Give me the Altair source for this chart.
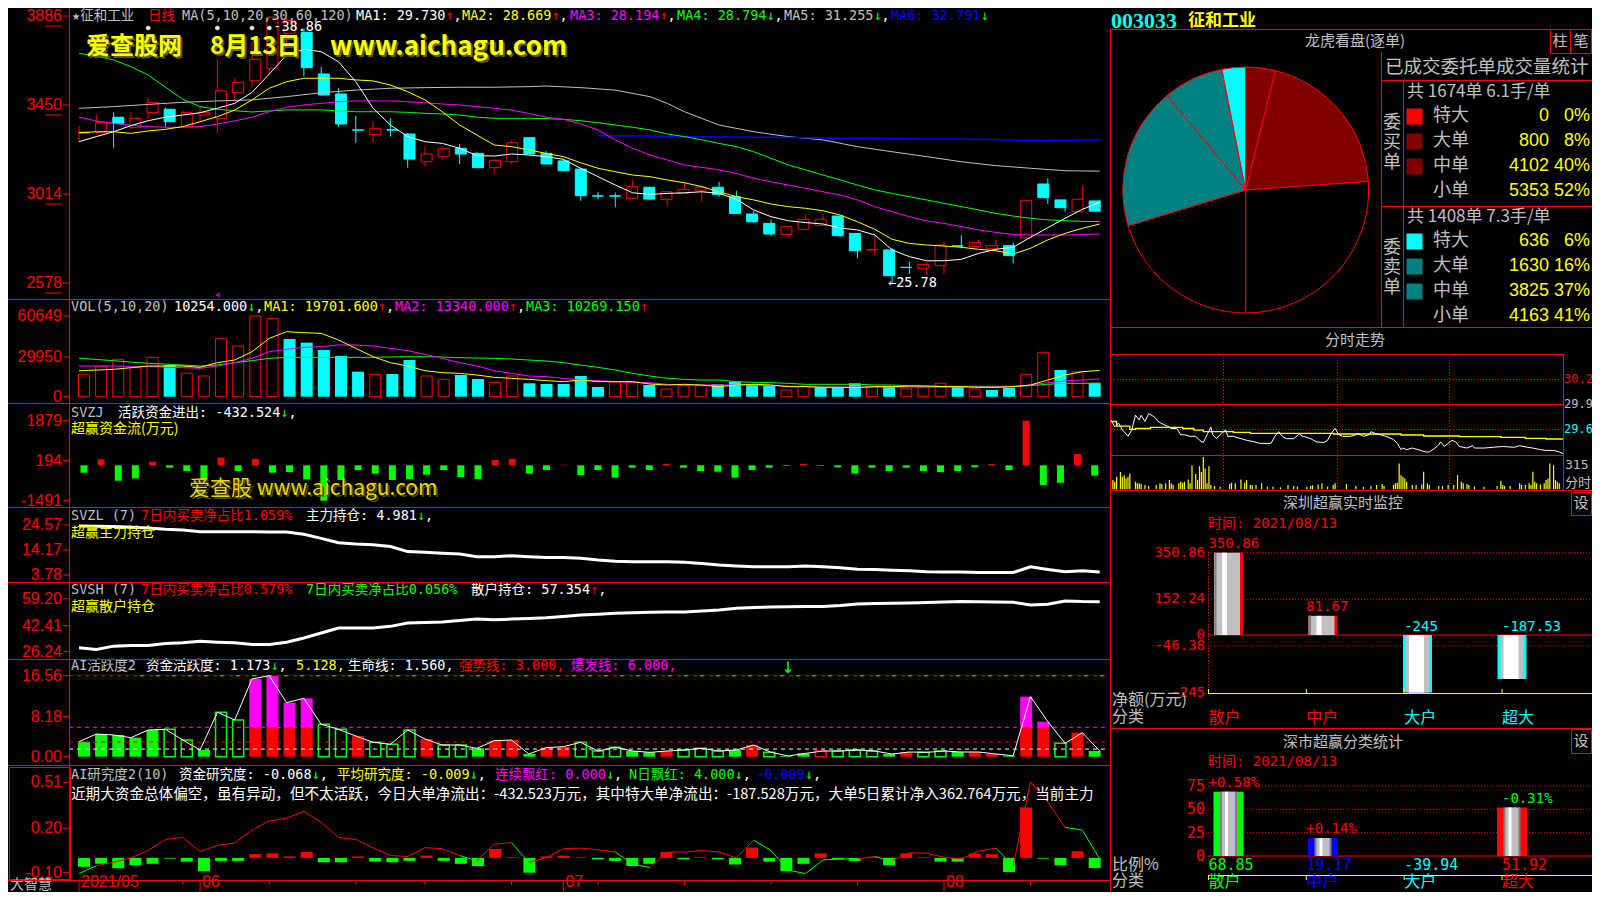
import altair as alt
import pandas as pd

# ============================ DATA ============================
N = 60
OPEN = [33.11, 33.16, 33.90, 33.39, 34.13, 34.29, 33.44, 34.01, 33.85, 35.10,
        35.69, 36.30, 38.01, 38.06, 36.02, 35.04, 33.28, 33.06, 33.29, 33.08,
        31.72, 31.97, 32.38, 32.13, 31.43, 31.72, 32.90, 32.13, 31.76, 31.36,
        30.05, 30.05, 29.93, 30.47, 29.88, 30.17, 30.33, 30.47, 30.01, 29.16,
        28.70, 28.16, 28.41, 28.60, 29.06, 28.21, 27.40, 27.40, 26.55, 26.50,
        26.63, 27.60, 27.56, 27.46, 27.61, 27.99, 30.63, 29.85, 29.27, 29.80]
CLOSE = [33.18, 33.65, 33.60, 33.85, 34.63, 33.68, 34.14, 34.14, 35.19, 35.61,
         36.74, 38.80, 38.63, 36.33, 34.99, 33.57, 33.27, 33.36, 33.27, 31.85,
         32.10, 32.38, 32.10, 31.43, 31.79, 32.65, 32.10, 31.61, 31.28, 30.06,
         30.04, 30.04, 30.50, 29.89, 30.25, 30.37, 30.47, 30.12, 29.19, 28.78,
         28.18, 28.54, 28.90, 28.90, 28.10, 27.36, 27.42, 26.14, 26.54, 26.69,
         27.64, 27.59, 27.76, 27.61, 27.12, 29.83, 29.96, 29.47, 29.88, 29.30]
HIGH = [33.47, 34.04, 34.14, 34.14, 34.88, 34.37, 34.21, 34.39, 36.74, 35.81,
        37.60, 38.86, 38.75, 38.26, 36.38, 35.32, 33.96, 33.68, 33.85, 33.11,
        32.49, 32.46, 32.59, 32.21, 31.84, 32.75, 32.90, 32.25, 31.84, 31.40,
        30.25, 30.21, 30.83, 30.47, 30.25, 30.74, 30.58, 30.74, 30.30, 29.32,
        28.90, 28.54, 29.14, 29.14, 29.06, 28.21, 28.08, 27.48, 26.83, 26.83,
        27.81, 28.13, 27.89, 27.89, 27.77, 29.83, 30.91, 29.85, 30.53, 29.85]
LOW = [32.70, 33.16, 32.41, 33.32, 33.85, 33.44, 33.36, 33.73, 33.14, 34.66,
       35.37, 35.97, 37.52, 35.89, 34.96, 33.44, 32.65, 32.65, 32.95, 31.43,
       31.48, 31.81, 31.61, 31.43, 31.12, 31.61, 32.10, 31.61, 31.23, 29.80,
       29.88, 29.49, 29.88, 29.85, 29.57, 30.17, 29.76, 30.01, 29.16, 28.73,
       28.08, 28.02, 28.41, 28.60, 28.05, 26.99, 27.15, 25.78, 26.22, 26.17,
       26.22, 27.48, 27.56, 27.46, 26.74, 27.99, 29.65, 29.27, 29.27, 29.25]
MA5 = [32.70, 32.95, 33.19, 33.49, 33.73, 33.90, 34.01, 34.12, 34.34, 34.58,
       35.12, 36.02, 36.95, 37.23, 37.11, 36.62, 35.64, 34.34, 33.52, 32.95,
       32.70, 32.62, 32.38, 32.02, 32.00, 32.10, 32.05, 31.97, 31.84, 31.40,
       30.99, 30.58, 30.20, 30.12, 30.17, 30.20, 30.25, 30.17, 29.88, 29.36,
       29.03, 28.83, 28.74, 28.67, 28.47, 28.38, 28.13, 27.40, 27.07, 26.87,
       26.87, 26.94, 27.23, 27.43, 27.53, 28.02, 28.49, 28.95, 29.39, 29.73]
MA10 = [33.14, 33.19, 33.19, 33.11, 33.23, 33.31, 33.44, 33.68, 33.93, 34.25,
        34.75, 35.32, 35.64, 35.81, 35.81, 35.81, 35.73, 35.68, 35.48, 35.15,
        34.75, 34.17, 33.52, 33.03, 32.54, 32.46, 32.30, 32.13, 31.97, 31.67,
        31.40, 31.23, 31.07, 30.99, 30.83, 30.69, 30.50, 30.25, 30.01, 29.85,
        29.65, 29.52, 29.44, 29.32, 29.11, 28.78, 28.41, 27.92, 27.72, 27.64,
        27.59, 27.53, 27.43, 27.36, 27.20, 27.48, 27.89, 28.21, 28.46, 28.67]
MA20 = [33.90, 33.72, 33.60, 33.50, 33.44, 33.41, 33.41, 33.44, 33.57, 33.72,
        33.90, 34.17, 34.39, 34.50, 34.58, 34.66, 34.70, 34.70, 34.70, 34.66,
        34.61, 34.55, 34.50, 34.42, 34.34, 34.25, 34.09, 33.90, 33.80, 33.57,
        33.28, 32.79, 32.38, 32.05, 31.81, 31.56, 31.45, 31.32, 31.15, 30.91,
        30.74, 30.58, 30.42, 30.25, 30.09, 29.85, 29.52, 29.27, 29.03, 28.82,
        28.70, 28.54, 28.38, 28.26, 28.16, 28.13, 28.13, 28.13, 28.15, 28.19]
MA30 = [37.03, 36.90, 36.71, 36.38, 35.97, 35.37, 34.78, 34.42, 34.29, 34.22,
        34.16, 34.21, 34.26, 34.26, 34.26, 34.21, 34.17, 34.17, 34.17, 34.14,
        34.09, 34.06, 34.01, 33.90, 33.85, 33.85, 33.85, 33.83, 33.80, 33.73,
        33.63, 33.52, 33.41, 33.28, 33.08, 32.95, 32.79, 32.62, 32.46, 32.21,
        31.89, 31.56, 31.32, 31.07, 30.83, 30.58, 30.34, 30.17, 30.01, 29.85,
        29.68, 29.52, 29.36, 29.19, 29.06, 28.95, 28.87, 28.83, 28.80, 28.79]
MA60_IDX = [0, 2, 4, 6, 8, 10, 12, 14, 16, 18, 20, 22, 24, 26, 27, 29, 31, 33, 34, 35,
            37, 39, 41, 43, 45, 47, 49, 51, 53, 55, 57, 59]
MA60 = [34.34, 34.42, 34.53, 34.63, 34.70, 34.75, 34.91, 35.10, 35.23, 35.32, 35.35,
        35.37, 35.37, 35.40, 35.43, 35.35, 35.23, 34.91, 34.58, 34.17, 33.52, 33.19,
        32.95, 32.79, 32.46, 32.21, 31.97, 31.72, 31.53, 31.40, 31.28, 31.26]
MA120_IDX = [30, 33, 36, 40, 44, 48, 52, 55, 57, 59]
MA120 = [32.99, 32.98, 32.95, 32.92, 32.87, 32.85, 32.82, 32.76, 32.77, 32.79]
SIGNAL_IDX = [4, 8, 10, 11]

VOL = [16830, 23070, 28100, 21800, 29600, 23800, 17600, 15550, 43900, 38100,
       60649, 58900, 43360, 40600, 35100, 30600, 18800, 16800, 17060, 27580,
       15550, 13070, 16300, 13300, 10820, 15550, 10070, 9540, 9540, 15550,
       7290, 11050, 11050, 8800, 5790, 8270, 8270, 9300, 11270, 9020,
       8270, 5030, 7800, 7060, 7060, 10070, 7800, 7520, 5790, 7060,
       10070, 7290, 5790, 5030, 6760, 16830, 33370, 20060, 18790, 10254]
VOL_UP = [1, 1, 1, 1, 1, 0, 1, 1, 1, 1, 1, 1, 0, 0, 0, 0, 0, 1, 0, 0,
          1, 1, 0, 0, 1, 1, 0, 0, 0, 0, 0, 1, 1, 0, 1, 1, 1, 0, 0, 0,
          0, 1, 1, 0, 0, 0, 1, 0, 1, 1, 1, 0, 1, 0, 0, 1, 1, 0, 1, 0]
VMA5 = [19560, 20000, 20570, 21800, 23070, 23070, 23070, 22070, 25570, 27580,
        33840, 43860, 48870, 48120, 47620, 42610, 36350, 30080, 25570, 23070,
        19560, 18060, 17560, 16310, 14560, 13800, 13050, 12050, 11300, 12550,
        11300, 11300, 11300, 9540, 8790, 9290, 8790, 7540, 8790, 9290,
        8790, 7540, 7540, 7040, 7040, 6790, 7540, 7540, 8040, 8040,
        7540, 7540, 7040, 7040, 7540, 8790, 12550, 16310, 18810, 19702]
VMA10 = [23070, 23070, 23070, 22800, 22570, 22200, 21820, 21320, 23070, 25570,
         28830, 33840, 35600, 37100, 37600, 38850, 38850, 38100, 36350, 34590,
         31840, 28830, 25570, 23070, 19560, 17560, 15560, 15050, 13800, 12550,
         12050, 11300, 10800, 10540, 9290, 8790, 8790, 8790, 8790, 8790,
         8290, 8040, 7540, 7290, 7290, 7290, 7290, 7290, 7290, 7290,
         7290, 7290, 7290, 7290, 7540, 8790, 10540, 11800, 12550, 13340]
VMA20 = [28830, 28000, 27080, 26000, 25080, 24500, 23800, 23070, 23800, 25570,
         27080, 28830, 29580, 29580, 29580, 29580, 29580, 29580, 29830, 30080,
         30080, 29830, 29330, 29080, 28830, 28330, 27580, 26830, 25570, 23800,
         22070, 20060, 17560, 15560, 13800, 13050, 12550, 12550, 11300, 10800,
         10540, 10050, 9290, 9290, 9290, 9290, 8790, 8790, 8290, 7790,
         7790, 7790, 7790, 7790, 7790, 8290, 9290, 10050, 10050, 10269]
SVZJ = [-312, 253, -650, -550, 150, -100, -240, -620, 320, -240,
        265, -312, -282, -590, -1491, -620, -198, -354, -620, -577,
        -396, -198, -493, -577, 223, 265, -354, -198, 20, -410,
        -198, -520, -100, -198, 60, -100, -240, -270, -520, -198,
        -100, -25, 60, -25, -80, -354, -100, -240, -100, -240,
        -282, -240, -80, 60, -198, 1879, -830, -733, 476, -432.5]
SVZL = [24.15, 24.0, 23.9, 23.6, 23.3, 22.8, 22.5, 21.8, 21.8, 21.8,
        21.8, 21.7, 21.7, 20.7, 19.0, 17.2, 16.7, 16.4, 15.6, 13.5,
        13.2, 12.8, 12.5, 11.4, 11.4, 11.8, 11.4, 11.1, 11.1, 10.7,
        10.0, 9.5, 9.3, 9.3, 9.3, 9.1, 8.6, 7.9, 7.5, 7.2,
        7.2, 7.2, 7.5, 7.2, 6.8, 6.2, 6.1, 5.8, 5.5, 5.1,
        5.0, 5.0, 4.8, 4.8, 4.8, 7.2, 6.1, 5.1, 5.5, 4.98]
SVSH = [28.7, 27.65, 29.7, 30.1, 30.1, 31.3, 31.75, 32.75, 32.15, 31.75,
        30.7, 30.7, 32.15, 34.8, 37.9, 41.0, 41.0, 41.0, 42.0, 44.05,
        44.45, 44.7, 45.7, 46.5, 46.1, 46.5, 46.9, 47.3, 48.1, 49.0,
        49.6, 50.2, 50.5, 50.8, 51.0, 51.0, 51.6, 52.2, 53.3, 53.7,
        54.1, 54.2, 54.3, 54.3, 54.9, 55.9, 56.2, 56.4, 56.6, 56.8,
        57.1, 57.4, 57.3, 57.2, 57.0, 55.3, 55.75, 57.8, 57.4, 57.35]
AI = [3.07, 4.64, 4.44, 3.89, 5.46, 5.60, 3.41, 1.37, 9.08, 7.51,
      15.9, 16.56, 11.05, 11.94, 6.62, 5.60, 4.23, 2.94, 2.53, 5.46,
      3.62, 2.39, 2.39, 1.71, 3.28, 3.41, 0.55, 1.84, 2.05, 2.94,
      1.16, 1.91, 1.16, 0.89, 1.16, 1.37, 1.71, 1.16, 1.37, 2.39,
      0.89, 0.15, 0.68, 1.16, 1.16, 1.37, 1.16, 0.55, 0.96, 0.89,
      1.16, 0.96, 0.96, 0.55, 0.2, 12.27, 7.16, 2.74, 4.91, 1.17]
AI_TYPE = "GGGGGggGgg" "RRRRggRggg" "RggGRRGRRg" "ggGGRgggGR" "gGGrgggGRg" "gGRRGRRgRG"
AI_LEVELS = [6.0, 3.0, 1.56]
YJ = [-0.06, -0.04, -0.07, -0.05, -0.04, -0.005, -0.025, -0.09, -0.02, -0.02,
      0.025, 0.03, 0.01, 0.04, -0.03, -0.03, 0.01, -0.025, -0.03, -0.02,
      0.015, -0.02, -0.04, -0.055, 0.06, 0.005, -0.10, 0.01, 0.015, 0.004,
      -0.01, -0.02, -0.055, -0.04, 0.04, -0.01, 0.005, -0.01, -0.045, 0.07,
      -0.025, -0.09, -0.04, 0.03, -0.01, -0.02, 0.005, -0.05, 0.03, 0.004,
      -0.025, -0.025, 0.03, 0.025, -0.095, 0.34, -0.005, -0.05, 0.045, -0.068]
YJ_LINE = [-0.106, -0.053, -0.030, 0.0, 0.050, 0.124, 0.138, 0.043, 0.085, 0.101,
           0.188, 0.250, 0.268, 0.314, 0.239, 0.138, 0.124, 0.069, 0.016, 0.009,
           0.069, 0.062, 0.016, -0.019, 0.092, 0.103, -0.030, 0.0, 0.062, 0.066,
           0.055, 0.039, -0.042, -0.065, 0.039, 0.039, 0.050, 0.039, 0.0, 0.119,
           0.050, -0.083, -0.106, -0.014, -0.007, -0.007, 0.009, -0.019, 0.034, 0.032,
           0.004, -0.007, 0.046, 0.066, -0.053, 0.514, 0.376, 0.206, 0.188, -0.007]
YJ_SEG = "GGRRRRRRRR" "RRRRRRRRRR" "RRRGRRGRRR" "RRGGRRRRRR" "GGGGGGRGRR" "RRRRGRRRGG"

DATE_IDX = [0, 7, 28, 50]
DATE_LBL = ["2021/05", "06", "07", "08"]
WEEK_IDX = [6, 11, 16, 20, 25, 30, 35, 40, 45, 55]

TICK_P = [38.86, 34.50, 30.14, 25.78]; TICK_P_L = ["3886", "3450", "3014", "2578"]
TICK_V = [60649, 29950, 0]; TICK_V_L = ["60649", "29950", "0"]
TICK_Z = [1879, 194, -1491]; TICK_Z_L = ["1879", "194", "-1491"]
TICK_L = [24.57, 14.17, 3.78]; TICK_L_L = ["24.57", "14.17", "3.78"]
TICK_H = [59.20, 42.41, 26.24]; TICK_H_L = ["59.20", "42.41", "26.24"]
TICK_A = [16.56, 8.18, 0.0]; TICK_A_L = ["16.56", "8.18", "0.00"]
TICK_J = [0.51, 0.20, -0.10]; TICK_J_L = ["0.51", "0.20", "-0.10"]

FS_MIN = [0, 2, 4, 6, 7, 9, 11, 13, 15, 16, 18, 20, 23, 25, 28, 30, 32, 35, 37, 39,
          42, 45, 47, 49, 51, 53, 54, 56, 59, 61, 62, 65, 69, 72, 76, 79, 83, 85, 87, 89,
          91, 93, 97, 100, 102, 106, 109, 113, 115, 117, 119, 121, 123, 127, 130, 131, 134, 137, 138, 140,
          143, 146, 150, 152, 154, 155, 157, 160, 163, 167, 169, 172, 174, 175, 177, 179, 181, 183, 185, 189,
          192, 193, 198, 203, 208, 214, 217, 221, 224, 228, 231, 235, 238, 240]
FS_PRICE = [29.73, 29.64, 29.69, 29.60, 29.58, 29.52, 29.60, 29.79, 29.73, 29.79,
            29.71, 29.81, 29.77, 29.71, 29.67, 29.65, 29.62, 29.62, 29.54, 29.54,
            29.52, 29.52, 29.47, 29.44, 29.54, 29.64, 29.54, 29.49, 29.57, 29.60,
            29.52, 29.52, 29.49, 29.47, 29.45, 29.43, 29.43, 29.43, 29.52, 29.58,
            29.52, 29.49, 29.49, 29.55, 29.52, 29.49, 29.45, 29.44, 29.47, 29.56,
            29.62, 29.54, 29.52, 29.52, 29.54, 29.56, 29.52, 29.54, 29.58, 29.56,
            29.54, 29.52, 29.48, 29.43, 29.35, 29.37, 29.35, 29.37, 29.35, 29.32,
            29.32, 29.37, 29.41, 29.45, 29.39, 29.43, 29.47, 29.45, 29.39, 29.37,
            29.40, 29.37, 29.37, 29.38, 29.39, 29.38, 29.40, 29.38, 29.37, 29.35,
            29.34, 29.34, 29.32, 29.30]
FS_AVG_MIN = [0, 3, 10, 13, 21, 30, 38, 44, 49, 65, 74, 100, 118, 154, 166, 185, 207, 220, 231, 240]
FS_AVG = [29.71, 29.65, 29.61, 29.62, 29.635, 29.635, 29.62, 29.60, 29.58, 29.57,
          29.558, 29.558, 29.55, 29.537, 29.524, 29.516, 29.507, 29.494, 29.486, 29.486]
FSV_MIN = [1, 2, 3, 5, 6, 7, 8, 9, 10, 13, 14, 15, 16, 18, 20, 24, 26, 27, 29, 31,
           32, 33, 36, 37, 38, 39, 41, 42, 43, 45, 46, 47, 48, 49, 50, 51, 52, 53, 55, 58,
           63, 64, 66, 69, 71, 72, 74, 75, 77, 80, 83, 86, 90, 94, 97, 99, 104, 106, 107, 110,
           112, 115, 118, 119, 125, 130, 134, 138, 141, 144, 145, 150, 151, 152, 153, 154, 155, 156, 157, 160,
           162, 165, 166, 168, 169, 174, 176, 179, 182, 184, 186, 187, 189, 190, 193, 198, 205, 207, 208, 209,
           212, 217, 218, 220, 222, 223, 224, 225, 226, 228, 230, 231, 232, 233, 235, 236, 237, 238]
FSV = [90, 74, 122, 170, 122, 138, 106, 122, 154, 74, 58, 58, 51, 42, 32, 42, 58, 51, 58, 90,
       58, 42, 58, 74, 64, 74, 96, 58, 235, 148, 90, 225, 170, 315, 202, 58, 225, 42, 32, 26,
       51, 64, 58, 96, 64, 90, 42, 39, 42, 58, 26, 26, 19, 42, 32, 26, 26, 32, 39, 48,
       58, 26, 42, 58, 51, 32, 26, 32, 42, 51, 32, 42, 58, 64, 251, 138, 122, 106, 74, 42,
       42, 48, 170, 58, 42, 32, 32, 42, 42, 138, 74, 58, 51, 42, 26, 26, 32, 84, 42, 32,
       32, 58, 42, 42, 58, 42, 170, 74, 58, 48, 58, 90, 106, 251, 235, 90, 74, 58]
FS_LBL = [(30.25, "30.25"), (29.93, "29.93"), (29.61, "29.61")]

ORDER_LBL = ["特大", "大单", "中单", "小单"]
BUY_VOL = [0, 800, 4102, 5353]
BUY_PCT = ["0%", "8%", "40%", "52%"]
SELL_VOL = [636, 1630, 3825, 4163]
SELL_PCT = ["6%", "16%", "37%", "41%"]
BUY_SUM = "共 1674单 6.1手/单"
SELL_SUM = "共 1408单 7.3手/单"

SZ_CATS = ["散户", "中户", "大户", "超大"]
SZ_NET = [350.86, 81.67, -245, -187.53]
SZ_TICKS = [350.86, 152.24, 0, -46.38, -245]
SZ_TICK_L = ["350.86", "152.24", "0", "-46.38", "-245"]
SS_PCT = [68.85, 19.17, -39.94, 51.92]
SS_CHG = ["+0.58%", "+0.14%", "", "-0.31%"]
SS_TICKS = [75, 50, 25, 0]

# ============================ STYLE / HELPERS ============================
M = 8
W, H = 1584, 884
RED = "#ff0000"; CYAN = "#00ffff"; GREEN = "#00ff00"; YEL = "#ffff00"; MAG = "#ff00ff"
WHITE = "#ffffff"; GRAY = "#c0c0c0"; BLUE = "#0000ff"; DRED = "#800000"; TEAL = "#008080"
DGRAY = "#808080"; BLACK = "#000000"
MONO = "DejaVu Sans Mono, Noto Sans CJK SC"
CJK = "Noto Sans CJK SC"
SANS = "Liberation Sans"
HS = 13.5

def P(v):
    return v - M

one = pd.DataFrame({"_": [0]})
L = []

def text(x, y, s, color, size=HS, font=MONO, align="left", baseline="middle", weight="normal", **kw):
    L.append(alt.Chart(one).mark_text(align=align, baseline=baseline, font=font, fontSize=size,
                                      fontWeight=weight, color=color, **kw)
             .encode(x=alt.value(P(x)), y=alt.value(P(y)), text=alt.value(s)))

def tw(s, size):
    return sum(size * (0.602 if (ord(ch) < 0x2000 or ch in "↑↓") else 1.0) for ch in s)

def rich(y, pieces, size=HS):
    cur = 0
    for x, s, c in pieces:
        if x is not None:
            cur = x
        text(cur, y, s, c, size=size)
        cur += tw(s, size)

def hline(y, x1, x2, color=RED, w=1, dash=None):
    kw = dict(color=color, strokeWidth=w)
    if dash:
        kw["strokeDash"] = dash
    L.append(alt.Chart(one).mark_rule(**kw).encode(
        x=alt.value(P(x1)), x2=alt.value(P(x2)), y=alt.value(P(y) + 0.5)))

def vline(x, y1, y2, color=RED, w=1, dash=None):
    kw = dict(color=color, strokeWidth=w)
    if dash:
        kw["strokeDash"] = dash
    L.append(alt.Chart(one).mark_rule(**kw).encode(
        x=alt.value(P(x) + 0.5), y=alt.value(P(y1)), y2=alt.value(P(y2))))

def rect(x1, y1, x2, y2, color=RED, filled=False):
    if filled:
        mk = alt.Chart(one).mark_rect(color=color)
    else:
        mk = alt.Chart(one).mark_rect(filled=False, stroke=color, strokeWidth=1)
    L.append(mk.encode(x=alt.value(P(x1) + 0.5), x2=alt.value(P(x2) + 0.5),
                       y=alt.value(P(y1) + 0.5), y2=alt.value(P(y2) + 0.5)))

def sc(dom, r0, r1):
    return alt.Scale(domain=list(dom), range=[P(r0), P(r1)], nice=False, zero=False)

def qx(f, s):
    return alt.X(f"{f}:Q", scale=s, axis=None)

def qy(f, s):
    return alt.Y(f"{f}:Q", scale=s, axis=None)

def yticks(vals, labels, s, underline=False):
    d = pd.DataFrame({"v": vals, "t": labels})
    L.append(alt.Chart(d).mark_text(align="right", baseline="middle", font=SANS, fontSize=16, color=RED)
             .encode(x=alt.value(P(62)), y=qy("v", s), text="t:N"))
    L.append(alt.Chart(d).mark_rule(color=RED).encode(x=alt.value(P(63)), x2=alt.value(P(69)), y=qy("v", s)))
    if underline:
        L.append(alt.Chart(d).mark_rule(color=RED, yOffset=10).encode(
            x=alt.value(P(45)), x2=alt.value(P(62)), y=qy("v", s)))

idx = list(range(N))
XS = sc([0, N - 1], 79, 79 + 17.3 * (N - 1))
YP = sc([25.78, 38.86], 283, 16)
YV = sc([0, 60649], 396.7, 316)
YZ = sc([-1491, 1879], 500.7, 420.7)
YL = sc([3.78, 24.57], 575, 525)
YH = sc([26.24, 59.20], 651.7, 598.7)
YA = sc([0, 16.56], 756.7, 675.7)
YJS = sc([-0.10, 0.51], 872.7, 782.3)

# ============================ LEFT: MAIN K-LINE ============================
cdf = pd.DataFrame({"i": idx, "o": OPEN, "c": CLOSE, "h": HIGH, "l": LOW})
cup = cdf[cdf.c >= cdf.o]
cdn = cdf[cdf.c < cdf.o]
for d, col, fill in ((cup, RED, BLACK), (cdn, CYAN, CYAN)):
    L.append(alt.Chart(d).mark_rule(color=col).encode(x=qx("i", XS), y=qy("l", YP), y2="h"))
    L.append(alt.Chart(d).mark_bar(size=11, fill=fill, stroke=col, strokeWidth=1)
             .encode(x=qx("i", XS), y=qy("o", YP), y2="c"))

mdf = pd.DataFrame({"i": idx, "a": MA5, "b": MA10, "c": MA20, "d": MA30})
L.append(alt.Chart(pd.DataFrame({"i": MA60_IDX, "v": MA60})).mark_line(color=GRAY, strokeWidth=1)
         .encode(x=qx("i", XS), y=qy("v", YP)))
L.append(alt.Chart(pd.DataFrame({"i": MA120_IDX, "v": MA120})).mark_line(color=BLUE, strokeWidth=1.5)
         .encode(x=qx("i", XS), y=qy("v", YP)))
for f, col in (("d", GREEN), ("c", MAG), ("b", YEL), ("a", WHITE)):
    L.append(alt.Chart(mdf).mark_line(color=col, strokeWidth=1).encode(x=qx("i", XS), y=qy(f, YP)))

hi = pd.DataFrame({"i": [11], "v": [38.86], "t": ["-38.86"]})
lo = pd.DataFrame({"i": [47], "v": [25.78], "t": ["←25.78"]})
L.append(alt.Chart(hi).mark_text(align="left", baseline="middle", dx=4, dy=11, font=MONO, fontSize=HS, color=WHITE)
         .encode(x=qx("i", XS), y=qy("v", YP), text="t:N"))
L.append(alt.Chart(lo).mark_text(align="left", baseline="middle", dx=-4, font=MONO, fontSize=HS, color=WHITE)
         .encode(x=qx("i", XS), y=qy("v", YP), text="t:N"))
L.append(alt.Chart(pd.DataFrame({"i": SIGNAL_IDX})).mark_point(shape="cross", size=22, filled=True, color=WHITE, angle=45)
         .encode(x=qx("i", XS), y=alt.value(P(28))))
L.append(alt.Chart(pd.DataFrame({"i": SIGNAL_IDX})).mark_point(shape="cross", size=22, filled=True, color=WHITE)
         .encode(x=qx("i", XS), y=alt.value(P(28))))
L.append(alt.Chart(pd.DataFrame({"i": [8]})).mark_point(shape="triangle-left", size=30, filled=True, color=MAG)
         .encode(x=qx("i", XS), y=alt.value(P(295))))
yticks(TICK_P, TICK_P_L, YP, underline=True)

# watermark
for dx, col in ((2, "#5a5a00"), (0, YEL)):
    text(86 + dx, 47 + dx, "爱查股网", col, size=24, font=CJK, weight="bold")
    text(210 + dx, 47 + dx, "8月13日", col, size=24, font=CJK, weight="bold")
    text(330 + dx, 47 + dx, "www.aichagu.com", col, size=26, font=CJK, weight="bold")

rich(16, [(72, "★征和工业", GRAY), (148, "日线", RED), (182, "MA(5,10,20,30,60,120)", GRAY),
          (356, "MA1: 29.730", WHITE), (None, "↑", RED), (None, ",", WHITE),
          (462, "MA2: 28.669", YEL), (None, "↑", RED), (None, ",", WHITE),
          (570, "MA3: 28.194", MAG), (None, "↑", RED), (None, ",", WHITE),
          (677, "MA4: 28.794", GREEN), (None, "↓", GREEN), (None, ",", WHITE),
          (784, "MA5: 31.255", GRAY), (None, "↓", GREEN), (None, ",", WHITE),
          (891, "MA6: 32.791", BLUE), (None, "↓", GREEN)])

# ============================ VOLUME ============================
vdf = pd.DataFrame({"i": idx, "v": VOL, "u": VOL_UP})
L.append(alt.Chart(vdf[vdf.u == 1]).mark_bar(size=11, fill=BLACK, stroke=RED, strokeWidth=1)
         .encode(x=qx("i", XS), y=qy("v", YV), y2=alt.datum(0)))
L.append(alt.Chart(vdf[vdf.u == 0]).mark_bar(size=12, color=CYAN)
         .encode(x=qx("i", XS), y=qy("v", YV), y2=alt.datum(0)))
vm = pd.DataFrame({"i": idx, "a": VMA5, "b": VMA10, "c": VMA20})
for f, col in (("c", GREEN), ("b", MAG), ("a", YEL)):
    L.append(alt.Chart(vm).mark_line(color=col, strokeWidth=1).encode(x=qx("i", XS), y=qy(f, YV)))
yticks(TICK_V, TICK_V_L, YV)
rich(307, [(71, "VOL(5,10,20)", GRAY), (174, "10254.000", WHITE), (None, "↓", GREEN), (None, ",", WHITE),
           (264, "MA1: 19701.600", YEL), (None, "↑", RED), (None, ",", WHITE),
           (395, "MA2: 13340.000", MAG), (None, "↑", RED), (None, ",", WHITE),
           (526, "MA3: 10269.150", GREEN), (None, "↑", RED)])

# ============================ SVZJ ============================
zdf = pd.DataFrame({"i": idx, "v": SVZJ})
L.append(alt.Chart(zdf[zdf.v > 0]).mark_bar(size=7, color=RED)
         .encode(x=qx("i", XS), y=qy("v", YZ), y2=alt.datum(0)))
L.append(alt.Chart(zdf[zdf.v <= 0]).mark_bar(size=7, color=GREEN)
         .encode(x=qx("i", XS), y=qy("v", YZ), y2=alt.datum(0)))
yticks(TICK_Z, TICK_Z_L, YZ)
rich(413, [(71, "SVZJ", GRAY), (118, "活跃资金进出: -432.524", WHITE), (None, "↓", GREEN), (None, ",", WHITE)])
text(71, 429, "超赢资金流(万元)", YEL, size=14, font=CJK)
for dx, col in ((2, "#4a4a00"), (0, "#e8d800")):
    text(189 + dx, 489 + dx, "爱查股 www.aichagu.com", col, size=21, font=CJK)

# ============================ SVZL / SVSH ============================
L.append(alt.Chart(pd.DataFrame({"i": idx, "v": SVZL})).mark_line(color=WHITE, strokeWidth=3)
         .encode(x=qx("i", XS), y=qy("v", YL)))
yticks(TICK_L, TICK_L_L, YL)
rich(516, [(71, "SVZL  (7)", GRAY), (141, "7日内买卖净占比1.059%", RED),
           (306, "主力持仓: 4.981", WHITE), (None, "↓", GREEN), (None, ",", WHITE)])
text(71, 533, "超赢主力持仓", YEL, size=14, font=CJK)

L.append(alt.Chart(pd.DataFrame({"i": idx, "v": SVSH})).mark_line(color=WHITE, strokeWidth=3)
         .encode(x=qx("i", XS), y=qy("v", YH)))
yticks(TICK_H, TICK_H_L, YH)
rich(590, [(71, "SVSH  (7)", GRAY), (141, "7日内买卖净占比0.579%", RED),
           (306, "7日内买卖净占比0.056%", GREEN),
           (471, "散户持仓: 57.354", WHITE), (None, "↑", RED), (None, ",", WHITE)])
text(71, 607, "超赢散户持仓", YEL, size=14, font=CJK)

# ============================ AI 活跃度 ============================
adf = pd.DataFrame({"i": idx, "v": AI, "t": list(AI_TYPE)})
adf["lo"] = adf.v.clip(upper=6)
L.append(alt.Chart(adf[adf.t == "G"]).mark_bar(size=12, color=GREEN)
         .encode(x=qx("i", XS), y=qy("v", YA), y2=alt.datum(0)))
L.append(alt.Chart(adf[adf.t == "g"]).mark_bar(size=11, filled=False, stroke=GREEN, strokeWidth=1.5)
         .encode(x=qx("i", XS), y=qy("v", YA), y2=alt.datum(0)))
L.append(alt.Chart(adf[adf.t == "r"]).mark_bar(size=11, filled=False, stroke=RED, strokeWidth=1.5)
         .encode(x=qx("i", XS), y=qy("v", YA), y2=alt.datum(0)))
L.append(alt.Chart(adf[adf.t == "R"]).mark_bar(size=12, color=RED)
         .encode(x=qx("i", XS), y=qy("lo", YA), y2=alt.datum(0)))
L.append(alt.Chart(adf[(adf.t == "R") & (adf.v > 6)]).mark_bar(size=12, color=MAG)
         .encode(x=qx("i", XS), y=qy("v", YA), y2=alt.datum(6)))
for lev, col in zip(AI_LEVELS, (MAG, RED, WHITE)):
    L.append(alt.Chart(pd.DataFrame({"v": [lev]})).mark_rule(color=col, strokeDash=[4, 4])
             .encode(x=alt.value(P(69)), x2=alt.value(P(1109)), y=qy("v", YA)))
L.append(alt.Chart(pd.DataFrame({"v": [16.56]})).mark_rule(color=RED, strokeDash=[4, 4])
         .encode(x=alt.value(P(69)), x2=alt.value(P(1109)), y=qy("v", YA)))
L.append(alt.Chart(pd.DataFrame({"v": [16.56]})).mark_rule(color=GREEN, strokeDash=[4, 12])
         .encode(x=alt.value(P(140)), x2=alt.value(P(1109)), y=qy("v", YA)))
L.append(alt.Chart(adf).mark_line(color=WHITE, strokeWidth=1).encode(x=qx("i", XS), y=qy("v", YA)))
yticks(TICK_A, TICK_A_L, YA)
rich(666, [(71, "AI活跃度2", GRAY), (146, "资金活跃度: 1.173", WHITE), (None, "↓", GREEN), (None, ",", WHITE),
           (296, "5.128,", YEL), (348, "生命线: 1.560,", WHITE), (459, "强势线: 3.000,", RED),
           (571, "爆发线: 6.000,", MAG)])
text(788, 668, "↓", GREEN, size=16, font="DejaVu Sans", align="center")

# ============================ AI 研究度 ============================
jdf = pd.DataFrame({"i": idx, "v": YJ})
L.append(alt.Chart(jdf[jdf.v > 0]).mark_bar(size=12, color=RED)
         .encode(x=qx("i", XS), y=qy("v", YJS), y2=alt.datum(0)))
L.append(alt.Chart(jdf[jdf.v <= 0]).mark_bar(size=12, color=GREEN)
         .encode(x=qx("i", XS), y=qy("v", YJS), y2=alt.datum(0)))
seg = pd.DataFrame({"x0": idx[:-1], "x1": idx[1:], "y0": YJ_LINE[:-1], "y1": YJ_LINE[1:],
                    "c": [RED if s == "R" else GREEN for s in YJ_SEG[1:]]})
L.append(alt.Chart(seg).mark_rule(strokeWidth=1).encode(
    x=qx("x0", XS), x2="x1", y=qy("y0", YJS), y2="y1", color=alt.Color("c:N", scale=None)))
yticks(TICK_J, TICK_J_L, YJS)
rich(775, [(71, "AI研究度2(10)", GRAY), (179, "资金研究度: -0.068", WHITE), (None, "↓", GREEN), (None, ",", WHITE),
           (337, "平均研究度: -0.009", YEL), (None, "↓", GREEN), (None, ",", WHITE),
           (495, "连续飘红: 0.000", MAG), (None, "↓", GREEN), (None, ",", WHITE),
           (629, "N日飘红: 4.000", GREEN), (None, "↓", GREEN), (None, ",", WHITE),
           (756, "-0.009", BLUE), (None, "↓", GREEN), (None, ",", WHITE)])
text(71, 795, "近期大资金总体偏空，虽有异动，但不太活跃，今日大单净流出：-432.523万元，其中特大单净流出：-187.528万元，大单5日累计净入362.764万元，当前主力",
     WHITE, size=14.6, font=CJK, limit=1037, ellipsis="\u200b")
rect(9, 767, 70, 879)

# ============================ DATE AXIS & FRAMES ============================
dd = pd.DataFrame({"i": DATE_IDX, "t": DATE_LBL})
L.append(alt.Chart(dd).mark_rule(color=RED).encode(x=qx("i", XS), y=alt.value(P(881)), y2=alt.value(P(900))))
L.append(alt.Chart(dd).mark_text(align="left", baseline="middle", dx=2, font="Liberation Sans Narrow, Liberation Sans",
                                 fontSize=16, color=RED).encode(x=qx("i", XS), y=alt.value(P(882)), text="t:N"))
L.append(alt.Chart(pd.DataFrame({"i": WEEK_IDX})).mark_rule(color=RED)
         .encode(x=qx("i", XS), y=alt.value(P(881)), y2=alt.value(P(885))))
text(10, 885, "大智慧", GRAY, size=14, font=CJK)

for yy in (299, 403, 507, 582, 659, 765, 880):
    hline(yy, 8, 1110)
vline(69, 8, 880)
vline(1110, 29, 900)

# ============================ RIGHT: TITLE + PIE ============================
text(1111, 21, "003033", CYAN, size=22, font="Liberation Serif", weight="bold")
text(1188, 21, "征和工业", YEL, size=17, font=CJK, weight="bold")
hline(29, 1110, 1600)
hline(327, 1110, 1600)
text(1355, 41, "龙虎看盘(逐单)", GRAY, size=15, font=CJK, align="center")
rect(1550, 29, 1570, 53)
rect(1570, 29, 1591, 53)
text(1560, 41, "柱", GRAY, size=15, font=CJK, align="center")
text(1581, 41, "笔", GRAY, size=15, font=CJK, align="center")

pie = pd.DataFrame({"k": list(range(8)), "v": BUY_VOL + SELL_VOL[::-1],
                    "c": [RED, DRED, DRED, BLACK, BLACK, TEAL, TEAL, CYAN]})
L.append(alt.Chart(pie).mark_arc(radius=123, stroke=RED, strokeWidth=1).encode(
    theta=alt.Theta("v:Q", stack=True), order=alt.Order("k:Q"), detail="k:N",
    color=alt.Color("c:N", scale=None), x=alt.value(P(1245.7)), y=alt.value(P(190))))

text(1385, 67, "已成交委托单成交量统计", GRAY, size=18.5, font=CJK)
hline(80, 1381, 1600)
hline(206, 1381, 1600)
vline(1381, 53, 327)
vline(1403, 80, 327)
text(1407, 92, BUY_SUM, GRAY, size=17, font=CJK)
text(1407, 217, SELL_SUM, GRAY, size=17, font=CJK)
for k, ch in enumerate("委买单"):
    text(1392, 123 + 20 * k, ch, GRAY, size=18, font=CJK, align="center")
for k, ch in enumerate("委卖单"):
    text(1392, 248 + 20 * k, ch, GRAY, size=18, font=CJK, align="center")
for base, vols, pcts, sq in ((116, BUY_VOL, BUY_PCT, [RED, DRED, DRED, None]),
                             (241, SELL_VOL, SELL_PCT, [CYAN, TEAL, TEAL, None])):
    for r in range(4):
        yy = base + 25 * r
        if sq[r]:
            rect(1406, yy - 8, 1422, yy + 8, color=sq[r], filled=True)
        text(1433, yy, ORDER_LBL[r], GRAY, size=18, font=CJK)
        text(1549, yy, str(vols[r]), YEL, size=18, font=SANS, align="right")
        text(1590, yy, pcts[r], YEL, size=18, font=SANS, align="right")

# ============================ 分时走势 ============================
text(1355, 340, "分时走势", GRAY, size=15, font=CJK, align="center")
XF = sc([0, 240], 1111, 1563)
YF = sc([29.61, 30.25], 429.3, 379.3)
YFV = sc([0, 315], 489.3, 457)
for xx in (1223, 1337, 1449):
    vline(xx, 354, 490, dash=[1, 2])
hline(379, 1111, 1563, dash=[1, 2])
hline(429, 1111, 1563, dash=[1, 2])
hline(354, 1111, 1563)
hline(404, 1111, 1563)
hline(455, 1111, 1563)
vline(1563, 354, 490)
L.append(alt.Chart(pd.DataFrame({"m": FSV_MIN, "v": FSV})).mark_rule(color=YEL, strokeWidth=1.2)
         .encode(x=qx("m", XF), y=qy("v", YFV), y2=alt.datum(0)))
L.append(alt.Chart(pd.DataFrame({"m": FS_AVG_MIN, "v": FS_AVG})).mark_line(color=YEL, strokeWidth=1.3,
                                                                           interpolate="step-after")
         .encode(x=qx("m", XF), y=qy("v", YF)))
L.append(alt.Chart(pd.DataFrame({"m": FS_MIN, "v": FS_PRICE})).mark_line(color=WHITE, strokeWidth=1)
         .encode(x=qx("m", XF), y=qy("v", YF)))
fl = pd.DataFrame({"v": [a for a, _ in FS_LBL], "t": [b for _, b in FS_LBL], "c": [RED, GRAY, CYAN]})
L.append(alt.Chart(fl).mark_text(align="left", baseline="middle", font=MONO, fontSize=12)
         .encode(x=alt.value(P(1564)), y=qy("v", YF), text="t:N", color=alt.Color("c:N", scale=None)))
text(1565, 465, "315", GRAY, size=13)
text(1565, 483, "分时", GRAY, size=13, font=CJK)
hline(490, 1110, 1600)

# ============================ 深圳超赢实时监控 ============================
text(1343, 503, "深圳超赢实时监控", GRAY, size=15, font=CJK, align="center")
rect(1571, 492, 1591, 515)
text(1581, 503, "设", GRAY, size=15, font=CJK, align="center")
text(1208, 524, "时间: 2021/08/13", RED, size=14)
XB = sc([0, 3], 1223.5, 1517)
YB = sc([-245, 350.86], 692.5, 552.7)
for v in (350.86, 152.24, -46.38):
    L.append(alt.Chart(pd.DataFrame({"v": [v]})).mark_rule(color=RED, strokeDash=[1, 2])
             .encode(x=alt.value(P(1208)), x2=alt.value(P(1600)), y=qy("v", YB)))
L.append(alt.Chart(pd.DataFrame({"v": [0]})).mark_rule(color=RED)
         .encode(x=alt.value(P(1208)), x2=alt.value(P(1600)), y=qy("v", YB)))
vline(1208, 552, 693, dash=[1, 2])
szt = pd.DataFrame({"v": SZ_TICKS, "t": SZ_TICK_L})
L.append(alt.Chart(szt).mark_text(align="right", baseline="middle", font=MONO, fontSize=14, color=RED)
         .encode(x=alt.value(P(1205)), y=qy("v", YB), text="t:N"))
bdf = pd.DataFrame({"k": list(range(4)), "v": SZ_NET, "cat": SZ_CATS,
                    "lbl": [("%g" % v) for v in SZ_NET], "z": [0, 0, 0, 0]})
bp = bdf[bdf.v > 0]
bn = bdf[bdf.v < 0]
for d, parts in ((bp, [(29, 0, RED), (26, -1.5, GRAY), (2, -13, DGRAY), (5, -4, WHITE)]),
                 (bn, [(29, 0, CYAN), (23, 0, GRAY), (15, -1, WHITE)])):
    for wdt, off, col in parts:
        L.append(alt.Chart(d).mark_bar(size=wdt, xOffset=off, color=col)
                 .encode(x=qx("k", XB), y=qy("v", YB), y2=alt.datum(0)))
L.append(alt.Chart(bp).mark_text(align="left", baseline="middle", dx=-15, dy=-9, font=MONO, fontSize=14, color=RED)
         .encode(x=qx("k", XB), y=qy("v", YB), text="lbl:N"))
L.append(alt.Chart(bn).mark_text(align="left", baseline="middle", dx=-15, dy=-8, font=MONO, fontSize=14, color=CYAN)
         .encode(x=qx("k", XB), y=qy("z", YB), text="lbl:N"))
hline(693, 1208, 1600, color=YEL)
L.append(alt.Chart(bdf).mark_rule(color=YEL, xOffset=-15).encode(x=qx("k", XB), y=alt.value(P(689)), y2=alt.value(P(693))))
text(1112, 700, "净额(万元)", GRAY, size=16, font=CJK)
text(1112, 717, "分类", GRAY, size=16, font=CJK)
L.append(alt.Chart(bdf.assign(c=[RED, RED, CYAN, CYAN])).mark_text(align="left", baseline="middle", dx=-15,
                                                                   font=CJK, fontSize=16)
         .encode(x=qx("k", XB), y=alt.value(P(718)), text="cat:N", color=alt.Color("c:N", scale=None)))
hline(728, 1110, 1600)

# ============================ 深市超赢分类统计 ============================
text(1343, 742, "深市超赢分类统计", GRAY, size=15, font=CJK, align="center")
rect(1571, 729, 1591, 753)
text(1581, 741, "设", GRAY, size=15, font=CJK, align="center")
text(1208, 762, "时间: 2021/08/13", RED, size=14)
YS = sc([0, 75], 856, 786)
for v in SS_TICKS[:-1]:
    L.append(alt.Chart(pd.DataFrame({"v": [v]})).mark_rule(color=RED, strokeDash=[1, 2])
             .encode(x=alt.value(P(1208)), x2=alt.value(P(1600)), y=qy("v", YS)))
L.append(alt.Chart(pd.DataFrame({"v": [0]})).mark_rule(color=RED)
         .encode(x=alt.value(P(1208)), x2=alt.value(P(1600)), y=qy("v", YS)))
L.append(alt.Chart(pd.DataFrame({"v": SS_TICKS, "t": [str(t) for t in SS_TICKS]}))
         .mark_text(align="right", baseline="middle", font=MONO, fontSize=15, color=RED)
         .encode(x=alt.value(P(1205)), y=qy("v", YS), text="t:N"))
sdf = pd.DataFrame({"k": list(range(4)), "v": SS_PCT, "chg": SS_CHG, "cat": SZ_CATS,
                    "lbl": [("%.2f" % v) for v in SS_PCT],
                    "c": [GREEN, BLUE, CYAN, RED], "cc": [RED, RED, GREEN, GREEN]})
sp = sdf[sdf.v > 0]
L.append(alt.Chart(sp).mark_bar(size=30).encode(x=qx("k", XB), y=qy("v", YS), y2=alt.datum(0),
                                                 color=alt.Color("c:N", scale=None)))
for wdt, off, col in ((17, 0, DGRAY), (13, 0, GRAY), (3, -2, WHITE)):
    L.append(alt.Chart(sp).mark_bar(size=wdt, xOffset=off, color=col)
             .encode(x=qx("k", XB), y=qy("v", YS), y2=alt.datum(0)))
L.append(alt.Chart(sp[sp.chg != ""]).mark_text(align="left", baseline="middle", dx=-15, dy=-9, font=MONO, fontSize=14)
         .encode(x=qx("k", XB), y=qy("v", YS), text="chg:N", color=alt.Color("cc:N", scale=None)))
L.append(alt.Chart(sdf).mark_text(align="left", baseline="middle", dx=-15, font=MONO, fontSize=15)
         .encode(x=qx("k", XB), y=alt.value(P(865)), text="lbl:N", color=alt.Color("c:N", scale=None)))
hline(875, 1208, 1600, color=YEL)
L.append(alt.Chart(sdf).mark_rule(color=YEL, xOffset=-15).encode(x=qx("k", XB), y=alt.value(P(875)), y2=alt.value(P(880))))
text(1112, 865, "比例%", GRAY, size=16, font=CJK)
text(1112, 881, "分类", GRAY, size=16, font=CJK)
L.append(alt.Chart(sdf).mark_text(align="left", baseline="middle", dx=-15, font=CJK, fontSize=16)
         .encode(x=qx("k", XB), y=alt.value(P(882)), text="cat:N", color=alt.Color("c:N", scale=None)))

# ============================ COMPOSE ============================
chart = (alt.layer(*L)
         .properties(width=W, height=H, padding=0, background=BLACK,
                     autosize=alt.AutoSizeParams(type="none"))
         .resolve_scale(x="independent", y="independent", theta="independent", color="independent")
         .configure_view(stroke=None))
chart.save("out.html", embed_options={"renderer": "svg", "actions": False})
